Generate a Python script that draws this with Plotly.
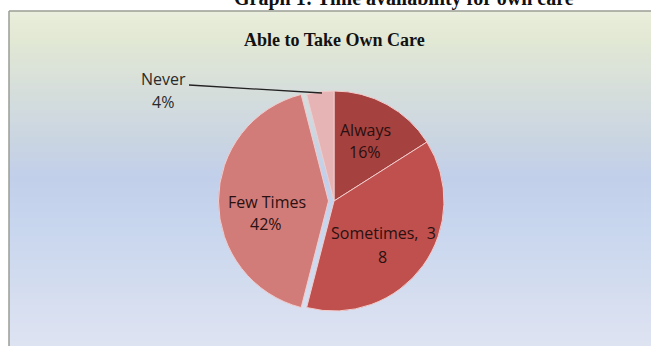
import plotly.graph_objects as go

# ---- data ----
categories = ["Always", "Sometimes", "Few Times", "Never"]
values = [16, 38, 42, 4]
label_lines = ["Always", "Sometimes,  3", "Few Times", "Never"]
value_lines = ["16%", "8", "42%", "4%"]
chart_title = "Able to Take Own Care"
outer_title = "Graph 1: Time availability for own care"

# ---- style ----
W, H = 651, 347
slice_colors = ["#a5413e", "#c0504d", "#d27c7a", "#e6b4b4"]
pulls = [0, 0, 0.05, 0]

def px(x):
    return x / W

def py(y):
    return 1 - y / H

fig = go.Figure()

# pie geometry: centre (334, 201), radius 110
cx, cy, r = 334, 201, 110
half = r * (1 + max(pulls))
fig.add_trace(go.Pie(
    labels=categories,
    values=values,
    sort=False,
    direction="clockwise",
    rotation=0,
    pull=pulls,
    marker=dict(colors=slice_colors, line=dict(color="#f2cccc", width=1)),
    textinfo="none",
    hoverinfo="label+percent",
    showlegend=False,
    domain=dict(x=[px(cx - half), px(cx + half)], y=[py(cy + half), py(cy - half)]),
))

# background gradient (chart area)
stops = [
    (12, (234, 238, 220)),
    (40, (226, 232, 212)),
    (90, (214, 222, 219)),
    (140, (202, 213, 226)),
    (178, (194, 207, 234)),
    (230, (200, 214, 238)),
    (290, (212, 221, 239)),
    (345, (222, 227, 242)),
]

def col_at(y):
    for (y0, c0), (y1, c1) in zip(stops[:-1], stops[1:]):
        if y0 <= y <= y1:
            t = (y - y0) / (y1 - y0)
            return "rgb(%d,%d,%d)" % tuple(round(a + (b - a) * t) for a, b in zip(c0, c1))
    return "rgb(%d,%d,%d)" % stops[-1][1]

shapes = []
step = 3
y = 11
while y < 346:
    shapes.append(dict(type="rect", xref="paper", yref="paper", layer="below",
                       x0=px(9), x1=1.0, y0=py(min(y + step + 0.5, 346)), y1=py(y),
                       fillcolor=col_at(y + step / 2), line=dict(width=0)))
    y += step
# border lines
shapes.append(dict(type="line", xref="paper", yref="paper", layer="below",
                   x0=px(9), x1=1.0, y0=py(11), y1=py(11), line=dict(color="#9a9e96", width=1.5)))
shapes.append(dict(type="line", xref="paper", yref="paper", layer="below",
                   x0=px(9), x1=px(9), y0=py(11), y1=py(346), line=dict(color="#9a9e96", width=1.5)))
# Never leader line
shapes.append(dict(type="line", xref="paper", yref="paper",
                   x0=px(189), x1=px(322), y0=py(85), y1=py(93), line=dict(color="#222222", width=1.3)))

label_font = dict(family="Open Sans", size=16)
inner_color = "#2a1010"
# label positions (centre of first line, centre of second line)
label_pos = [((365, 130), (365, 152)),
             ((383, 233), (382, 257)),
             ((267, 202), (266, 224)),
             ((163, 79), (163, 102))]
annotations = []
for i, ((p1, p2)) in enumerate(label_pos):
    color = "#2b2b2b" if i == 3 else inner_color
    annotations.append(dict(text=label_lines[i], x=px(p1[0]), y=py(p1[1]), xref="paper", yref="paper",
                            showarrow=False, xanchor="center", yanchor="middle",
                            font=dict(label_font, color=color)))
    annotations.append(dict(text=value_lines[i], x=px(p2[0]), y=py(p2[1]), xref="paper", yref="paper",
                            showarrow=False, xanchor="center", yanchor="middle",
                            font=dict(label_font, color=color)))

annotations.append(dict(text="<b>" + chart_title + "</b>", x=px(334), y=py(40), xref="paper", yref="paper",
                        showarrow=False, xanchor="center", yanchor="middle",
                        font=dict(family="Liberation Serif", size=18, color="#111111")))
annotations.append(dict(text="<b>" + outer_title + "</b>", x=px(404), y=py(-1), xref="paper", yref="paper",
                        showarrow=False, xanchor="center", yanchor="middle",
                        font=dict(family="Liberation Serif", size=20, color="#111111")))

fig.update_layout(
    width=W, height=H,
    margin=dict(l=0, r=0, t=0, b=0),
    paper_bgcolor="white",
    plot_bgcolor="white",
    shapes=shapes,
    annotations=annotations,
)

fig.write_html("out.html", include_plotlyjs=True, config=dict(displayModeBar=False))
